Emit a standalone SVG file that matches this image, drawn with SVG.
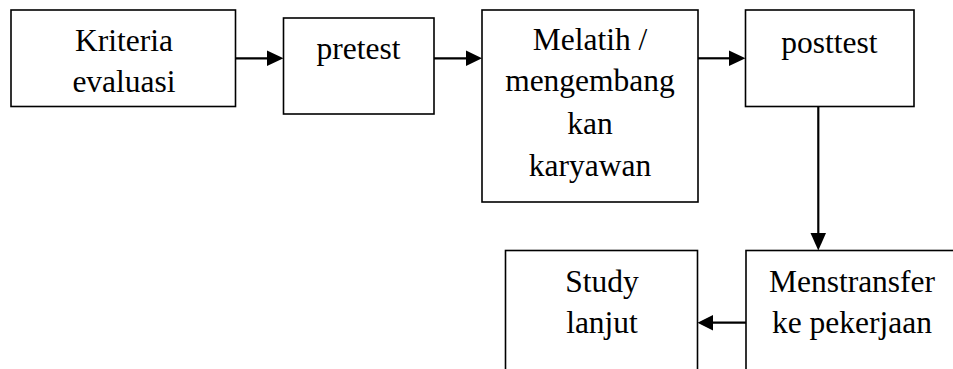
<svg xmlns="http://www.w3.org/2000/svg" width="953" height="369" viewBox="0 0 953 369">
<style>
.box{fill:#fff;stroke:#000;stroke-width:1.6}
.t{font-family:"Liberation Serif","Times New Roman",serif;font-size:31.5px;fill:#000;text-anchor:middle}
.c{stroke:#000;stroke-width:2.2;fill:none}
.ah{fill:#000}
</style>
<rect width="953" height="369" fill="#fff"/>
<g id="n1"><rect class="box" x="11" y="10" width="224.5" height="96.5"/><text class="t" x="124" y="51">Kriteria</text><text class="t" x="124" y="92">evaluasi</text></g>
<g id="n2"><rect class="box" x="283.5" y="18" width="150.5" height="96"/><text class="t" x="358.5" y="59">pretest</text></g>
<g id="n3"><rect class="box" x="482" y="10" width="216" height="192"/><text class="t" x="590" y="50">Melatih /</text><text class="t" x="590" y="91">mengembang</text><text class="t" x="590" y="134">kan</text><text class="t" x="590" y="176">karyawan</text></g>
<g id="n4"><rect class="box" x="745.5" y="10" width="168.5" height="96.5"/><text class="t" x="829.5" y="53">posttest</text></g>
<g id="n5"><rect class="box" x="746" y="250.5" width="220" height="130"/><text class="t" x="852" y="292">Menstransfer</text><text class="t" x="852" y="333">ke pekerjaan</text></g>
<g id="n6"><rect class="box" x="505.5" y="250.5" width="192" height="130"/><text class="t" x="602" y="292">Study</text><text class="t" x="602" y="333">lanjut</text></g>
<g id="connectors">
<line class="c" x1="235.5" y1="58.3" x2="268" y2="58.3"/><polygon class="ah" points="267,50.5 283.5,58.3 267,66"/>
<line class="c" x1="434" y1="58.3" x2="467" y2="58.3"/><polygon class="ah" points="466,50.5 482,58.3 466,66"/>
<line class="c" x1="698" y1="58.3" x2="730" y2="58.3"/><polygon class="ah" points="729,50.5 745.5,58.3 729,66"/>
<line class="c" x1="818.3" y1="106.5" x2="818.3" y2="234"/><polygon class="ah" points="810.5,233 818.3,250.5 826,233"/>
<line class="c" x1="746" y1="322.7" x2="712" y2="322.7"/><polygon class="ah" points="713,315 697.5,322.7 713,330.5"/>
</g>
</svg>
